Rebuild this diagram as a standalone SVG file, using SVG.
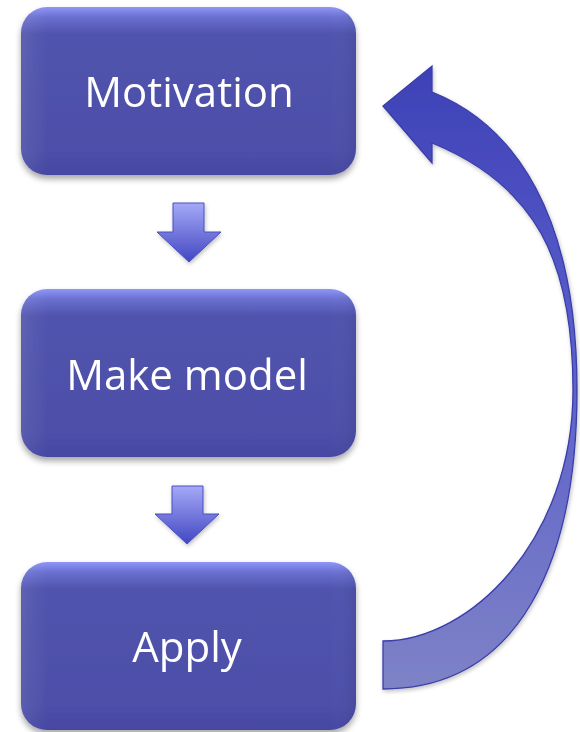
<svg xmlns="http://www.w3.org/2000/svg" width="580" height="732" viewBox="0 0 580 732">
  <defs>
    <linearGradient id="boxGrad" x1="0" y1="0" x2="0" y2="1">
      <stop offset="0" stop-color="#8f96f8"/>
      <stop offset="0.06" stop-color="#6a70d0"/>
      <stop offset="0.16" stop-color="#5053ad"/>
      <stop offset="0.85" stop-color="#4d4fa8"/>
      <stop offset="1" stop-color="#4547a2"/>
    </linearGradient>
    <linearGradient id="sideGrad" x1="0" y1="0" x2="1" y2="0">
      <stop offset="0" stop-color="#ffffff" stop-opacity="0.08"/>
      <stop offset="0.08" stop-color="#ffffff" stop-opacity="0"/>
      <stop offset="0.92" stop-color="#ffffff" stop-opacity="0"/>
      <stop offset="1" stop-color="#000000" stop-opacity="0.05"/>
    </linearGradient>
    <linearGradient id="smallArrowGrad" x1="0" y1="0" x2="0" y2="1">
      <stop offset="0" stop-color="#a4a9f7"/>
      <stop offset="1" stop-color="#4347c2"/>
    </linearGradient>
    <linearGradient id="curveGrad" gradientUnits="userSpaceOnUse" x1="0" y1="66" x2="0" y2="689">
      <stop offset="0" stop-color="#3d41b6"/>
      <stop offset="0.45" stop-color="#5a5ecb"/>
      <stop offset="1" stop-color="#7e82c6"/>
    </linearGradient>
    <filter id="shadow" x="-10%" y="-10%" width="120%" height="130%">
      <feGaussianBlur in="SourceAlpha" stdDeviation="3"/>
      <feOffset dx="0" dy="4" result="b"/>
      <feComponentTransfer><feFuncA type="linear" slope="0.35"/></feComponentTransfer>
      <feMerge><feMergeNode/><feMergeNode in="SourceGraphic"/></feMerge>
    </filter>
    <filter id="shadowSmall" x="-20%" y="-20%" width="140%" height="140%">
      <feGaussianBlur in="SourceAlpha" stdDeviation="2"/>
      <feOffset dx="1" dy="2" result="b"/>
      <feComponentTransfer><feFuncA type="linear" slope="0.25"/></feComponentTransfer>
      <feMerge><feMergeNode/><feMergeNode in="SourceGraphic"/></feMerge>
    </filter>
  </defs>
  <style>
    .box { fill: url(#boxGrad); }
    .boxSide { fill: url(#sideGrad); }
    .label { font-family: "Open Sans", "Liberation Sans", sans-serif; font-size: 42px; fill: #ffffff; text-anchor: middle; }
    .smallArrow { fill: url(#smallArrowGrad); stroke: #4a4fc0; stroke-width: 1; }
    .curve { fill: url(#curveGrad); stroke: #3a3ea8; stroke-width: 1.3; }
  </style>

  <g id="motivation" filter="url(#shadow)">
    <rect class="box" x="21" y="7" width="335" height="168" rx="26"/>
    <rect class="boxSide" x="21" y="7" width="335" height="168" rx="26"/>
    <text class="label" x="189" y="107">Motivation</text>
  </g>

  <g id="make-model" filter="url(#shadow)">
    <rect class="box" x="21" y="289" width="335" height="168" rx="26"/>
    <rect class="boxSide" x="21" y="289" width="335" height="168" rx="26"/>
    <text class="label" x="187" y="390">Make model</text>
  </g>

  <g id="apply" filter="url(#shadow)">
    <rect class="box" x="21" y="562" width="335" height="168" rx="26"/>
    <rect class="boxSide" x="21" y="562" width="335" height="168" rx="26"/>
    <text class="label" x="187" y="662">Apply</text>
  </g>

  <g id="connectors">
    <path class="smallArrow" filter="url(#shadowSmall)" d="M173,203 L204,203 L204,232 L221,232 L189,262 L157,232 L173,232 Z"/>
    <path class="smallArrow" filter="url(#shadowSmall)" d="M172,486 L203,486 L203,514 L219,514 L187,544 L155,514 L172,514 Z"/>
    <path class="curve" filter="url(#shadowSmall)" d="M383,641 C470,641 573,540 573,390 C573,260 535,185 432,143 L432,163 L383,106 L432,66 L432,92 C515,125 577,215 577,390 C577,560 520,689 383,689 Z"/>
  </g>
</svg>
